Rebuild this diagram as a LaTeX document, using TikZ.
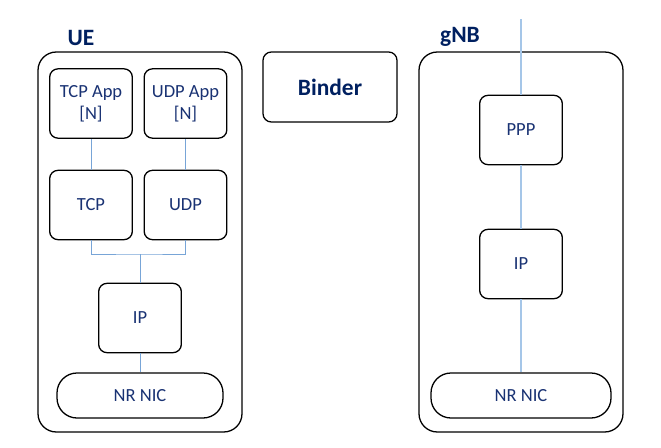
\documentclass[tikz,border=0pt]{standalone}
\usepackage{fontspec}
\setmainfont{Carlito}
\usepackage{tikz}
\usetikzlibrary{positioning,calc}

\definecolor{txtblue}{RGB}{25,50,115}
\definecolor{navy}{RGB}{0,32,96}
\definecolor{linkue}{RGB}{120,165,215}
\definecolor{linkgnb}{RGB}{165,198,232}

\tikzset{
    layer/.style={draw, line width=1.1pt, rounded corners=0.25cm, fill=white, text=txtblue,
        align=center, font=\fontsize{15.8}{18.8}\selectfont,
        minimum width=2.48cm, minimum height=2.08cm},
    nic/.style={layer, rounded corners=0.6cm, minimum height=1.35cm},
    title/.style={text=navy, font=\fontsize{20}{24}\selectfont\bfseries},
    host/.style={draw, line width=1.1pt, rounded corners=0.55cm},
}

\begin{document}
\begin{tikzpicture}[x=0.03cm, y=-0.03cm]
    \useasboundingbox (0,0) rectangle (661,448);
    % UE side
    \draw[host] (38,52) rectangle (242,432);
    \node[title] (uelabel) at (81,38) {UE};
    \node[layer] (tcpapp) at (91,103.5) {TCP App\\{[N]}};
    \node[layer] (udpapp) at (185.5,103.5) {UDP App\\{[N]}};
    \node[layer] (tcp) at (91,205) {TCP};
    \node[layer] (udp) at (185.5,205) {UDP};
    \node[layer] (ueip) at (140,318) {IP};
    \node[nic, minimum width=4.98cm] (uenic) at (140,395.5) {NR NIC};
    \coordinate (join) at (140,254);
    \draw[linkue, line width=0.8pt] (tcpapp) -- (tcp) (udpapp) -- (udp);
    \draw[linkue, line width=0.8pt] (tcp) |- (join) -| (udp) (join) -- (ueip) -- (uenic);
    % binder
    \node[layer, minimum width=4.02cm, minimum height=2.1cm, title] (binder) at (330,87) {Binder};
    % gNB side
    \draw[host] (419,52) rectangle (623,432);
    \node[title] (gnblabel) at (460,37) {gNB};
    \node[layer] (ppp) at (521,130) {PPP};
    \node[layer] (gnbip) at (521,264) {IP};
    \node[nic, minimum width=5.4cm] (gnbnic) at (521,395.5) {NR NIC};
    \coordinate (uplink) at (521,19);
    \draw[linkgnb, line width=0.9pt] (uplink) -- (ppp) -- (gnbip) -- (gnbnic);
\end{tikzpicture}
\end{document}
